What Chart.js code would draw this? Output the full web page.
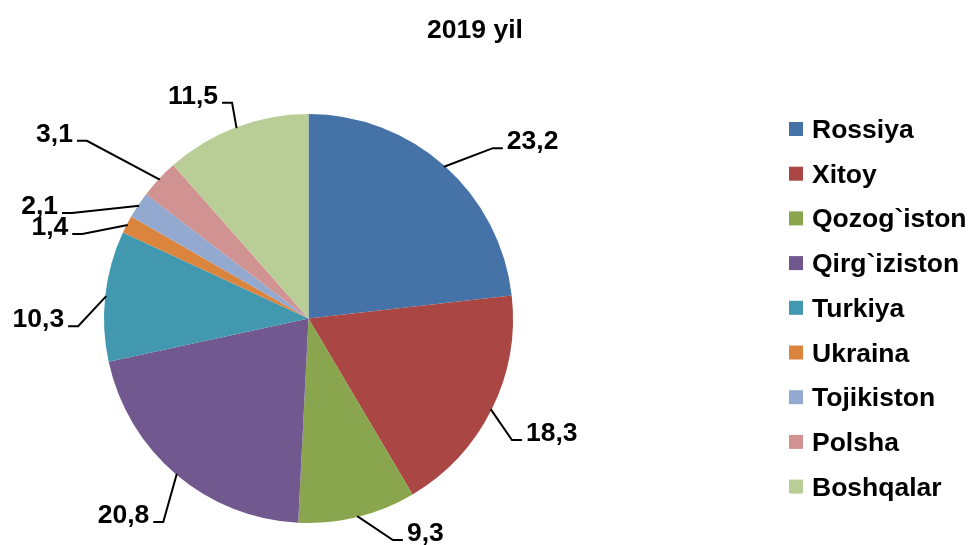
<!DOCTYPE html>
<html>
<head>
<meta charset="utf-8">
<title>2019 yil</title>
<script src="https://cdn.jsdelivr.net/npm/chart.js@4.4.0/dist/chart.umd.min.js"></script>
<style>
    html, body { margin: 0; padding: 0; background: #ffffff; }
    #wrap { width: 973px; height: 545px; }
</style>
</head>
<body>
<div id="wrap"><canvas id="pieChart" width="973" height="545"></canvas></div>
<script>
// Chart data
const chartTitle = '2019 yil';
const countries = ['Rossiya', 'Xitoy', 'Qozog`iston', 'Qirg`iziston', 'Turkiya', 'Ukraina', 'Tojikiston', 'Polsha', 'Boshqalar'];
const shares = [23.2, 18.3, 9.3, 20.8, 10.3, 1.4, 2.1, 3.1, 11.5];

// Excel-style slice colours
const sliceColors = ['#4572A7', '#AA4643', '#89A54E', '#71588F', '#4198AF', '#DB843D', '#93A9CF', '#D19392', '#B9CD96'];

const FONT = '"Liberation Sans", Arial, sans-serif';
const BOLD = 'bold 26.5px ' + FONT;

function formatShare(v) {
    return v.toFixed(1).replace('.', ',');
}

// Value labels with leader lines (elbow = shifted angle / extra radius from slice middle)
const leaderLabels = {
    id: 'leaderLabels',
    afterDatasetsDraw(chart, args, opts) {
        const ctx = chart.ctx;
        const values = chart.data.datasets[0].data;
        ctx.save();
        ctx.strokeStyle = '#000';
        ctx.fillStyle = '#000';
        ctx.lineWidth = 2;
        ctx.font = BOLD;
        ctx.textBaseline = 'alphabetic';
        chart.getDatasetMeta(0).data.forEach((arc, i) => {
            const p = arc.getProps(['x', 'y', 'startAngle', 'endAngle', 'outerRadius'], true);
            const mid = (p.startAngle + p.endAngle) / 2;
            const sx = p.x + Math.cos(mid) * (p.outerRadius - 1);
            const sy = p.y + Math.sin(mid) * (p.outerRadius - 1);
            const a = mid + opts.shift[i] * Math.PI / 180;
            const r2 = p.outerRadius + opts.reach[i];
            const ex = p.x + Math.cos(a) * r2;
            const ey = p.y + Math.sin(a) * r2;
            const dir = Math.cos(a) >= 0 ? 1 : -1;
            const hx = ex + dir * 10;

            ctx.beginPath();
            ctx.moveTo(sx, sy);
            ctx.lineTo(ex, ey);
            ctx.lineTo(hx, ey);
            ctx.stroke();

            ctx.textAlign = dir > 0 ? 'left' : 'right';
            ctx.fillText(formatShare(values[i]), hx + dir * 4, ey + 1);
        });
        ctx.restore();
    }
};

// Title and legend drawn by hand so the pie can sit left of centre
const sideLegend = {
    id: 'sideLegend',
    afterDraw(chart, args, opts) {
        const ctx = chart.ctx;
        ctx.save();
        ctx.font = BOLD;
        ctx.fillStyle = '#000';
        ctx.textAlign = 'center';
        ctx.textBaseline = 'alphabetic';
        ctx.fillText(chartTitle, opts.titleX, opts.titleY);

        ctx.textAlign = 'left';
        chart.data.labels.forEach((label, i) => {
            const cy = opts.top + i * opts.step;
            ctx.fillStyle = chart.data.datasets[0].backgroundColor[i];
            ctx.fillRect(opts.x, cy - 7, 14, 14);
            ctx.fillStyle = '#000';
            ctx.fillText(label, opts.x + 23, cy + 9);
        });
        ctx.restore();
    }
};

const ctx = document.getElementById('pieChart');

new Chart(ctx, {
    type: 'pie',
    data: {
        labels: countries,
        datasets: [{
            data: shares,
            backgroundColor: sliceColors,
            borderWidth: 0
        }]
    },
    options: {
        responsive: false,
        animation: false,
        devicePixelRatio: 1,
        layout: {
            padding: { top: 114, left: 104, right: 460, bottom: 22 }
        },
        plugins: {
            legend: { display: false },
            title: { display: false },
            tooltip: { enabled: false },
            leaderLabels: {
                shift: [5.5, 4.4, -7, -4.8, -8.2, -6.9, -9.6, -4.3, 1.2],
                reach: [46.5, 32.5, 32.5, 45.5, 26, 37, 54.5, 79.5, 24.5]
            },
            sideLegend: {
                titleX: 475,
                titleY: 38,
                x: 789,
                top: 129,
                step: 44.7
            }
        }
    },
    plugins: [leaderLabels, sideLegend]
});
</script>
</body>
</html>
